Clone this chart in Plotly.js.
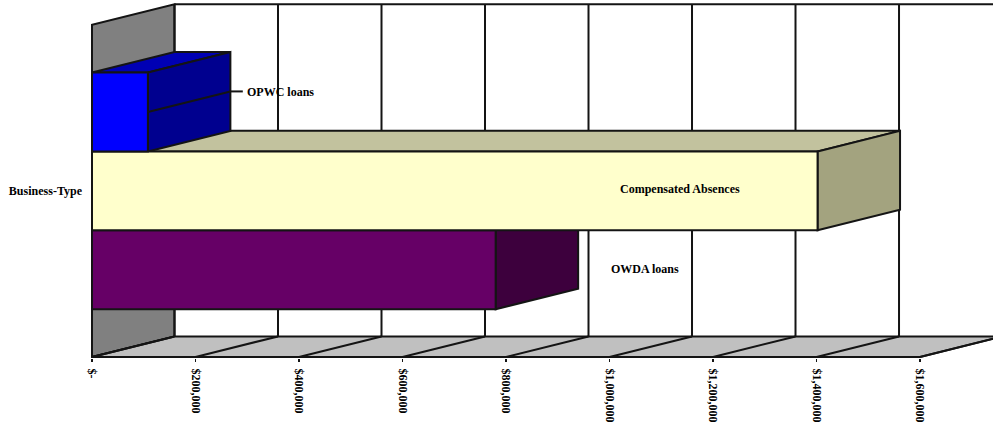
<!DOCTYPE html>
<html>
<head>
<meta charset="utf-8">
<script src="https://cdn.plot.ly/plotly-3.0.1.min.js"></script>
<style>html,body{margin:0;padding:0;background:#fff;overflow:hidden}</style>
</head>
<body>
<div id="chart" style="width:993px;height:423px"></div>
<script>
// Long-term obligations of the business-type activities
const categories = ['Business-Type'];
const seriesNames = ['OWDA loans', 'Compensated Absences', 'OPWC loans'];
const seriesValues = [780000, 1402000, 108000];
const frontColors = ['#660066', '#FFFFCC', '#0000FF'];
const topColors = ['#520052', '#C2C29E', '#0000B4'];
const sideColors = ['#3D003D', '#A3A37F', '#00008F'];
const tickValues = [0, 200000, 400000, 600000, 800000, 1000000, 1200000, 1400000, 1600000];
const tickLabels = ['$-', '$200,000', '$400,000', '$600,000', '$800,000', '$1,000,000', '$1,200,000', '$1,400,000', '$1,600,000'];

// Oblique projection: how far the back of the box sits from its front
const depthX = 159400;
const depthY = 0.062;
const xMin = -1932, xMax = 1741000;
const yMin = -0.5, yTop = 0.5;
const bargap = 0.2877;
const span = 1 - bargap;
const band = span / seriesNames.length;
const ink = '#141414';
const serif = '"Liberation Serif", "Times New Roman", serif';

const poly = (pts) => 'M' + pts.map(p => p[0] + ',' + p[1]).join(' L') + ' Z';
const face = (pts, fill) => ({
  type: 'path', layer: 'between', xref: 'x', yref: 'y', path: poly(pts),
  fillcolor: fill, line: {color: ink, width: 2}
});
const seg = (x0, y0, x1, y1, layer) => ({
  type: 'line', layer: layer || 'between', xref: 'x', yref: 'y',
  x0, y0, x1, y1, line: {color: ink, width: 2}
});

const shapes = [];
const lastTick = tickValues[tickValues.length - 1];

// Side wall and floor of the box
shapes.push(face([[0, yMin], [depthX, yMin + depthY], [depthX, yTop + depthY], [0, yTop]], '#808080'));
shapes.push(face([[0, yMin], [lastTick, yMin], [lastTick + depthX, yMin + depthY], [depthX, yMin + depthY]], '#C0C0C0'));

// Gridlines run across the floor and then up the back wall
tickValues.forEach(v => {
  shapes.push(seg(v, yMin, v + depthX, yMin + depthY));
  shapes.push(seg(v + depthX, yMin + depthY, v + depthX, yTop + depthY));
});
shapes.push(seg(depthX, yTop + depthY, lastTick + depthX, yTop + depthY));
shapes.push(seg(0, yMin, lastTick, yMin));

// Top and end faces of each bar, lowest bar first
seriesValues.forEach((v, i) => {
  const lo = -span / 2 + i * band, hi = lo + band;
  shapes.push(face([[0, hi], [v, hi], [v + depthX, hi + depthY], [depthX, hi + depthY]], topColors[i]));
  shapes.push(face([[v, lo], [v + depthX, lo + depthY], [v + depthX, hi + depthY], [v, hi]], sideColors[i]));
});

// Leader from the small bar out to its label
const opwc = seriesValues[2];
const opwcMid = -span / 2 + 2.5 * band;
shapes.push(seg(opwc, opwcMid, opwc + depthX, opwcMid + depthY, 'above'));
shapes.push(seg(opwc + depthX, opwcMid + depthY, opwc + depthX + 24000, opwcMid + depthY, 'above'));

const traces = seriesNames.map((name, i) => ({
  type: 'bar', orientation: 'h', name,
  y: categories, x: [seriesValues[i]],
  marker: {color: frontColors[i], line: {color: ink, width: 2}},
  hoverinfo: 'skip'
}));

const labelStyle = {family: serif, size: 12, color: '#000'};
const note = (text, x, y) => ({
  text: '<b>' + text + '</b>', x, y, xref: 'x', yref: 'y',
  showarrow: false, font: labelStyle
});

const layout = {
  width: 993, height: 423,
  margin: {l: 91, r: 0, t: 0, b: 65, pad: 0},
  paper_bgcolor: '#fff', plot_bgcolor: '#fff',
  showlegend: false, hovermode: false,
  barmode: 'group', bargap,
  xaxis: {
    range: [xMin, xMax], tickmode: 'array', tickvals: tickValues,
    ticktext: tickLabels.map(t => '<b>' + t + '</b>'),
    tickangle: 90, ticks: 'outside', ticklen: 3, tickcolor: ink, tickwidth: 1.5,
    showgrid: false, zeroline: false, showline: false,
    tickfont: {family: serif, size: 12, color: '#000'}, ticklabelstandoff: 4
  },
  yaxis: {
    type: 'category', range: [yMin - 0.003, yTop + 0.0746],
    showgrid: false, zeroline: false, showline: false, ticks: '',
    tickprefix: '<b>', ticksuffix: '</b>',
    tickfont: {family: serif, size: 12, color: '#000'}, ticklabelstandoff: 8
  },
  shapes,
  annotations: [
    note(seriesNames[2], 364000, 0.297),
    note(seriesNames[1], 1137000, 0.007),
    note(seriesNames[0], 1068000, -0.234)
  ]
};

Plotly.newPlot('chart', traces, layout, {displayModeBar: false, staticPlot: true});
</script>
</body>
</html>
